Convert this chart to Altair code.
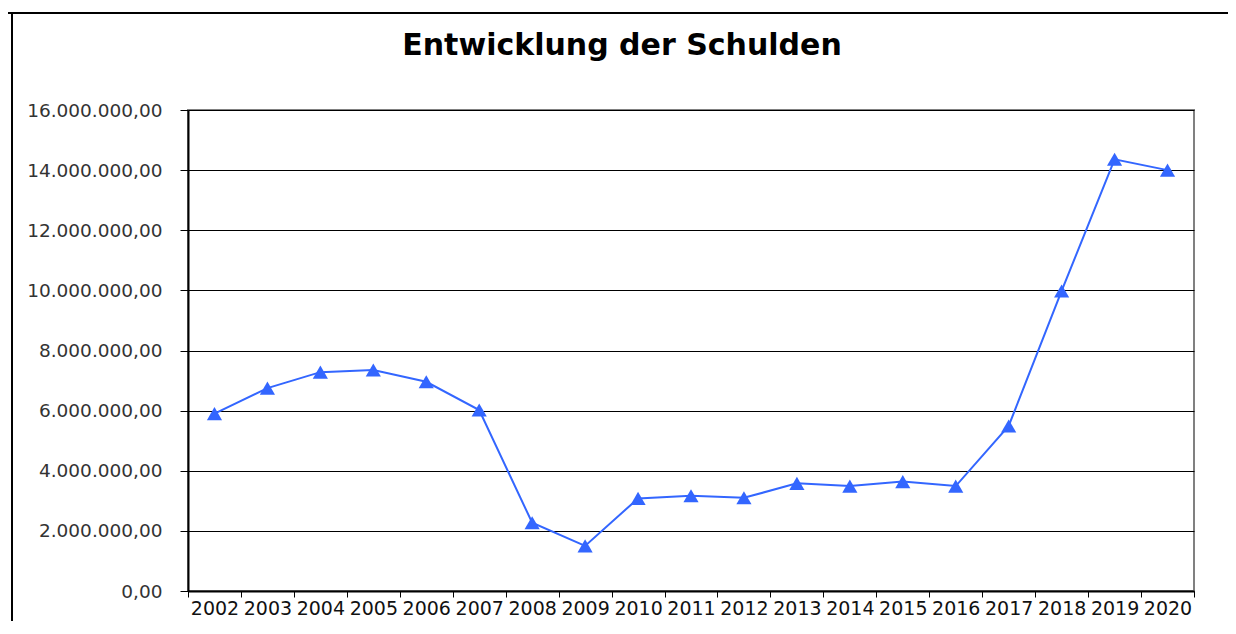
import altair as alt
import pandas as pd

years = ["2002", "2003", "2004", "2005", "2006", "2007", "2008", "2009", "2010", "2011",
         "2012", "2013", "2014", "2015", "2016", "2017", "2018", "2019", "2020"]
schulden = [5900000, 6750000, 7280000, 7350000, 6960000, 6020000, 2270000, 1500000, 3080000, 3170000,
            3100000, 3580000, 3490000, 3640000, 3490000, 5490000, 9980000, 14360000, 14000000]
y_ticks = [0, 2000000, 4000000, 6000000, 8000000, 10000000, 12000000, 14000000, 16000000]
title_text = "Entwicklung der Schulden"

df = pd.DataFrame({"Jahr": years, "Schulden": schulden})
one = pd.DataFrame({"t": [title_text]})

BLUE = "#3366FF"
FONT = "DejaVu Sans"

label_expr = ("replace(replace(replace(format(datum.value, ',.2f'), regexp(',', 'g'), '#'), '.', ','), "
              "regexp('#', 'g'), '.')")

x_enc = alt.X("Jahr:N", sort=years,
              scale=alt.Scale(type="band", paddingInner=0, paddingOuter=0),
              axis=alt.Axis(title=None, tickBand="extent", grid=False, labelAngle=0,
                            labelFont=FONT, labelFontSize=19, labelColor="#111",
                            tickColor="#000", tickSize=6, domainColor="#000", domainWidth=2,
                            labelPadding=2, labelOverlap=False))
y_enc = alt.Y("Schulden:Q",
              scale=alt.Scale(domain=[0, 16000000], nice=False, zero=True),
              axis=alt.Axis(title=None, values=y_ticks, labelExpr=label_expr,
                            labelFont=FONT, labelFontSize=18.5, labelColor="#333",
                            tickColor="#000", tickSize=8, labelPadding=18,
                            domainColor="#000", domainWidth=2,
                            grid=True, gridColor="#000", gridWidth=1.2, gridOpacity=1))

line = alt.Chart(df).mark_line(color=BLUE, strokeWidth=2).encode(x=x_enc, y=y_enc)
pts = alt.Chart(df).mark_point(shape="triangle-up", filled=True, color=BLUE, opacity=1, size=230).encode(
    x=alt.X("Jahr:N", sort=years), y="Schulden:Q")

frame_top = alt.Chart(one).mark_rule(color="#000", strokeWidth=2, clip=False).encode(
    x=alt.value(-190), x2=alt.value(1050), y=alt.value(-97))
frame_left = alt.Chart(one).mark_rule(color="#000", strokeWidth=2, clip=False).encode(
    x=alt.value(-176), y=alt.value(-97), y2=alt.value(540))
title = alt.Chart(one).mark_text(font=FONT, fontSize=30, fontWeight="bold",
                                 color="#000", align="center", baseline="alphabetic", clip=False).encode(
    text="t:N", x=alt.value(434), y=alt.value(-55))

chart = alt.layer(line, pts, frame_top, frame_left, title).properties(
    width=1006, height=481,
    autosize=alt.AutoSizeParams(type="none"),
    padding={"left": 180, "top": 102, "right": 34, "bottom": 30},
).configure_view(stroke="#808080", strokeWidth=2)

chart.save("out.html", embed_options={"renderer": "svg", "actions": False})
